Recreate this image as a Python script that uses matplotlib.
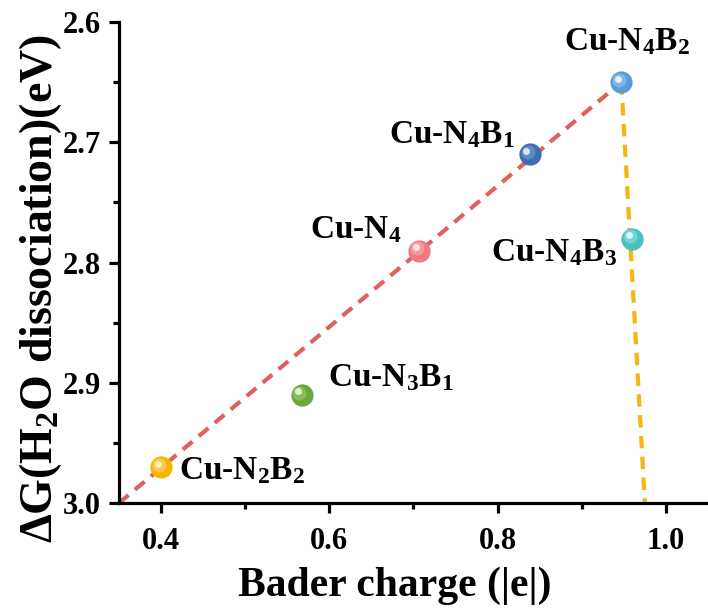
import matplotlib
matplotlib.use("Agg")
import matplotlib.pyplot as plt
from matplotlib.ticker import MultipleLocator
from matplotlib.transforms import offset_copy

plt.rcParams['font.family'] = 'Liberation Serif'
plt.rcParams['font.weight'] = 'bold'
plt.rcParams['mathtext.fontset'] = 'custom'
plt.rcParams['mathtext.rm'] = 'Liberation Serif:bold'
plt.rcParams['mathtext.bf'] = 'Liberation Serif:bold'
plt.rcParams['mathtext.default'] = 'bf'

# Bader charge vs dissociation free energy
names = ['Cu-N$_2$B$_2$', 'Cu-N$_3$B$_1$', 'Cu-N$_4$', 'Cu-N$_4$B$_1$',
         'Cu-N$_4$B$_2$', 'Cu-N$_4$B$_3$']
charge = [0.400, 0.567, 0.707, 0.838, 0.947, 0.960]
dg = [2.97, 2.91, 2.79, 2.71, 2.65, 2.78]
colors = ['#F8B400', '#6AA83A', '#EE7A7E', '#3C6EB0', '#5A9CDA', '#4CC0C0']
mids = ['#FBCB45', '#88BE5E', '#F39A9D', '#5F8CC6', '#80B6E6', '#76D2D2']
lights = ['#FFF0C0', '#E0F0D0', '#FFE2E2', '#D6E3F5', '#E4F0FB', '#DDF6F6']

# trend lines
red_x = [0.35, 0.947]
red_y = [3.00, 2.65]
orange_x = [0.947, 0.975]
orange_y = [2.65, 3.00]

# label offsets in points (dx, dy, ha)
offsets = [(13, -3, 'left'), (19, 12, 'left'), (-13, 15, 'right'),
           (-11, 14, 'right'), (4, 29, 'center'), (-11, -10, 'right')]

fig = plt.figure(figsize=(7.08, 6.15), dpi=100)
ax = fig.add_axes([0.168, 0.182, 0.832, 0.782])

ax.plot(red_x, red_y, ls=(0, (3, 2)), color='#E0605E', lw=3, zorder=1)
ax.plot(orange_x, orange_y, ls=(0, (3, 2)), color='#F7B514', lw=3, zorder=1)

# shaded balls: base disc plus lighter discs shifted up-left
for x, y, c, m, h in zip(charge, dg, colors, mids, lights):
    ax.plot([x], [y], 'o', ms=16, color=c, mec='none', zorder=3)
    tr = offset_copy(ax.transData, fig=fig, x=-1.5, y=1.5, units='points')
    ax.plot([x], [y], 'o', ms=10, color=m, mec='none', zorder=4, transform=tr)
    tr2 = offset_copy(ax.transData, fig=fig, x=-2.5, y=2.5, units='points')
    ax.plot([x], [y], 'o', ms=5, color=h, mec='none', zorder=5, transform=tr2)

for x, y, n, (dx, dy, ha) in zip(charge, dg, names, offsets):
    ax.annotate(n, (x, y), xytext=(dx, dy), textcoords='offset points',
                ha=ha, va='center', fontsize=24, fontweight='bold')

ax.set_xlim(0.35, 1.05)
ax.set_ylim(3.0, 2.6)
ax.xaxis.set_major_locator(MultipleLocator(0.2))
ax.xaxis.set_minor_locator(MultipleLocator(0.1))
ax.yaxis.set_major_locator(MultipleLocator(0.1))
ax.yaxis.set_minor_locator(MultipleLocator(0.05))
ax.set_xticks([0.4, 0.6, 0.8, 1.0])
ax.set_xticklabels(['0.4', '0.6', '0.8', '1.0'])

for s in ['top', 'right']:
    ax.spines[s].set_visible(False)
for s in ['left', 'bottom']:
    ax.spines[s].set_linewidth(2.3)

ax.tick_params(which='major', direction='out', length=7, width=2.3,
               labelsize=22, pad=6)
ax.tick_params(axis='x', which='major', pad=10)
ax.tick_params(which='minor', direction='out', length=4, width=2.3)

ax.set_xlabel('Bader charge (|e|)', fontsize=30, fontweight='bold')
ax.set_ylabel('ΔG(H$_2$O dissociation)(eV)', fontsize=33, fontweight='bold')
ax.xaxis.set_label_coords(0.469, -0.132)
ax.yaxis.set_label_coords(-0.093, 0.445)

fig.savefig('out.png', dpi=100)
